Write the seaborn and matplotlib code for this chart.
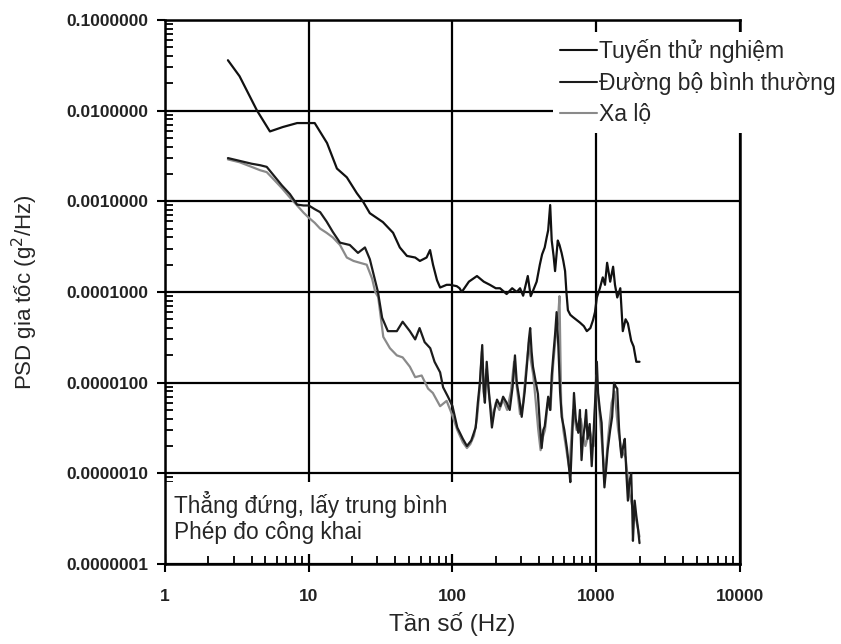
import numpy as np
import pandas as pd
import matplotlib
matplotlib.use("Agg")
import matplotlib.pyplot as plt
import matplotlib.ticker as mticker
import seaborn as sns

# ---------------- data ----------------
series_names = ["Tuyến thử nghiệm", "Đường bộ bình thường", "Xa lộ"]

f_test = [2.74, 3.3, 4.37, 5.37, 6.6, 8.3, 11.0, 13.4, 15.7, 18.4, 21.6, 23.8, 26.6,
          32.8, 38.6, 43, 48.2, 55, 59.3, 66, 69.8, 73.2, 78, 82, 91, 96, 107, 112,
          116, 130, 148, 165, 182, 200, 214, 238, 260, 280, 295, 310, 334, 350, 363,
          385, 405, 420, 438, 452, 463, 478, 490, 505, 517, 540, 555, 574, 590, 607,
          620, 635, 660, 687, 720, 770, 820, 860, 910, 950, 980, 1010, 1060, 1110,
          1150, 1190, 1250, 1310, 1350, 1400, 1470, 1530, 1600, 1660, 1750, 1820,
          1900, 2000]
psd_test = [0.036, 0.024, 0.010, 0.0059, 0.0066, 0.0073, 0.0073, 0.0044, 0.0023,
            0.00184, 0.00123, 0.001, 0.00074, 0.00059, 0.00045, 0.00031, 0.00025,
            0.00024, 0.00022, 0.00024, 0.00029, 0.0002, 0.000135, 0.000112, 0.00012,
            0.00012, 0.000116, 0.00011, 0.0001, 0.00013, 0.00015, 0.00013, 0.00012,
            0.00011, 0.00011, 0.000095, 0.00011, 0.0001, 0.00011, 0.000091, 0.00015,
            0.00009, 0.000103, 0.00013, 0.0002, 0.00026, 0.00031, 0.0004, 0.00048,
            0.00091, 0.00037, 0.00025, 0.00017, 0.00037, 0.00033, 0.00027, 0.00022,
            0.00017, 0.0001, 0.000063, 0.000056, 0.000053, 0.00005, 0.000046,
            0.000042, 0.000037, 0.00004, 0.000049, 0.00006, 0.000087, 0.00011,
            0.000145, 0.00012, 0.00021, 0.00013, 0.00019, 0.00012, 0.000087,
            0.00011, 0.000037, 0.00005, 0.000045, 0.000029, 0.000025, 0.000017,
            0.000017]

f_road = [2.74, 3.3, 4.0, 4.6, 5.1, 5.6, 6.5, 7.4, 8.3, 9.2, 10, 11, 12, 13.3, 14.7,
          16.5, 19.3, 22, 24.6, 26.6, 28.9, 30.3, 32.4, 35.5, 41, 45, 50.5, 55, 59,
          64, 70, 75, 82, 86, 93, 100, 108, 118, 126, 135, 145, 150, 155, 161, 165,
          168, 173, 178, 188, 196, 204, 215, 225, 238, 250, 262, 272, 280, 290, 303,
          318, 330, 340, 347, 355, 363, 380, 393, 405, 417, 428, 438, 452, 463, 478,
          490, 505, 517, 530, 545, 560, 575, 600, 625, 645, 660, 680, 700, 720, 750,
          770, 790, 810, 830, 850, 870, 900, 930, 960, 990, 1010, 1030, 1060, 1090,
          1120, 1140, 1170, 1200, 1250, 1290, 1330, 1370, 1400, 1440, 1470, 1500,
          1540, 1580, 1620, 1660, 1700, 1750, 1780, 1800, 1850, 1900, 1950, 2000]
psd_road = [0.0030, 0.0028, 0.0026, 0.0025, 0.0024, 0.0020, 0.0015, 0.0012, 0.00092,
            0.0009, 0.0009, 0.00082, 0.00076, 0.0006, 0.00046, 0.00035, 0.00033,
            0.00027, 0.00031, 0.00023, 0.000136, 0.0001, 0.000052, 0.000037,
            0.000037, 0.000047, 0.000037, 0.00003, 0.00004, 0.000028, 0.000024,
            0.000017, 0.000013, 0.0000089, 0.000007, 0.0000055, 0.0000032, 0.0000024,
            0.000002, 0.0000023, 0.0000032, 0.000006, 0.00001, 0.000026, 0.000008,
            0.000006, 0.000017, 0.000009, 0.0000032, 0.000005, 0.0000065, 0.0000055,
            0.000007, 0.000006, 0.000005, 0.000009, 0.00002, 0.00001, 0.000007,
            0.0000042, 0.000008, 0.000016, 0.00003, 0.00004, 0.000022, 0.000015,
            0.00001, 0.0000075, 0.0000035, 0.0000019, 0.000003, 0.0000033, 0.000005,
            0.000007, 0.000005, 0.000012, 0.000022, 0.000034, 0.00006, 0.000025,
            0.000008, 0.0000042, 0.000003, 0.0000019, 0.0000012, 0.0000008,
            0.0000025, 0.0000077, 0.000004, 0.0000028, 0.000005, 0.0000014,
            0.0000025, 0.0000032, 0.000005, 0.0000024, 0.0000035, 0.0000012,
            0.000003, 0.000008, 0.000017, 0.0000077, 0.000005, 0.0000036, 0.0000012,
            0.0000007, 0.0000011, 0.0000018, 0.000003, 0.0000042, 0.00001, 0.000009,
            0.0000086, 0.0000032, 0.000002, 0.0000015, 0.000002, 0.0000024, 0.000001,
            0.0000005, 0.0000008, 0.000001, 0.0000004, 0.00000018, 0.0000005,
            0.00000034, 0.00000025, 0.00000017]

f_hwy = [2.74, 3.3, 4.0, 4.6, 5.1, 5.6, 6.5, 7.4, 8.3, 9.2, 10, 11, 12, 13.3, 14.7,
         16.5, 18.4, 20.5, 22.7, 25.3, 27.6, 29, 30.4, 33, 36.7, 41, 45, 50.5, 55, 61,
         67.6, 73, 82, 91, 99, 108, 118, 126, 133, 141, 148, 155, 160, 166, 172, 180,
         190, 200, 212, 225, 240, 255, 268, 280, 295, 310, 325, 340, 350, 365, 380,
         395, 410, 425, 440, 460, 480, 500, 520, 540, 555, 570, 590, 620, 650, 690,
         730, 780, 840, 900, 960, 1000, 1050, 1100, 1150, 1210, 1280, 1340, 1420,
         1500, 1600, 1700, 1800, 1900, 2000]
psd_hwy = [0.0029, 0.0027, 0.0024, 0.0022, 0.0021, 0.0018, 0.0014, 0.0011, 0.0009,
           0.00075, 0.00066, 0.00058, 0.0005, 0.00045, 0.0004, 0.00033, 0.00024,
           0.00022, 0.00021, 0.0002, 0.00014, 0.0001, 0.000088, 0.000032, 0.000024,
           0.00002, 0.000019, 0.000015, 0.0000115, 0.000012, 0.0000086, 0.0000077,
           0.0000055, 0.0000063, 0.0000045, 0.000003, 0.0000022, 0.0000019,
           0.0000021, 0.0000026, 0.000004, 0.000009, 0.000022, 0.000007, 0.000014,
           0.000007, 0.000004, 0.000006, 0.000005, 0.0000065, 0.000005, 0.000008,
           0.000017, 0.000009, 0.0000045, 0.000006, 0.000014, 0.000028, 0.000018,
           0.000012, 0.000006, 0.000003, 0.0000018, 0.0000025, 0.000003, 0.000006,
           0.000005, 0.000015, 0.00003, 0.000045, 0.00009, 0.000006, 0.000003,
           0.0000018, 0.0000011, 0.000005, 0.000003, 0.000004, 0.000002, 0.000003,
           0.000002, 0.000012, 0.000005, 0.000002, 0.0000009, 0.0000025, 0.000006,
           0.000008, 0.000003, 0.0000018, 0.0000015, 0.0000006, 0.0000004,
           0.0000003, 0.0000002]

x_ticks = [1, 10, 100, 1000, 10000]
y_ticks = [1e-7, 1e-6, 1e-5, 1e-4, 1e-3, 1e-2, 1e-1]
x_label = "Tần số (Hz)"
y_label = "PSD gia tốc (g$^2$/Hz)"
note_text = "Thẳng đứng, lấy trung bình\nPhép đo công khai"

# ---------------- figure ----------------
sns.set_theme(style="white")
plt.rcParams["font.family"] = ["Liberation Sans", "DejaVu Sans"]

fig = plt.figure(figsize=(8.41, 6.44), dpi=100)
ax = fig.add_axes([165 / 841, 1 - 564 / 644, 575 / 841, 544 / 644])

df = pd.concat([
    pd.DataFrame({"f": f_hwy, "psd": psd_hwy, "s": series_names[2]}),
    pd.DataFrame({"f": f_road, "psd": psd_road, "s": series_names[1]}),
    pd.DataFrame({"f": f_test, "psd": psd_test, "s": series_names[0]}),
])
palette = {series_names[0]: "#111111", series_names[1]: "#1c1c1c", series_names[2]: "#8a8a8a"}
sns.lineplot(data=df, x="f", y="psd", hue="s", palette=palette, estimator=None,
             sort=False, linewidth=1.6, ax=ax, zorder=3)

ax.set_xscale("log")
ax.set_yscale("log")
ax.set_xlim(1, 10000)
ax.set_ylim(1e-7, 0.1)

ax.xaxis.set_major_locator(mticker.FixedLocator(x_ticks))
ax.xaxis.set_major_formatter(mticker.FixedFormatter([str(v) for v in x_ticks]))
ax.xaxis.set_minor_locator(mticker.LogLocator(base=10, subs=np.arange(2, 10), numticks=20))
ax.xaxis.set_minor_formatter(mticker.NullFormatter())
ax.yaxis.set_major_locator(mticker.FixedLocator(y_ticks))
ax.yaxis.set_major_formatter(mticker.FuncFormatter(lambda v, p: f"{v:.7f}"))
ax.yaxis.set_minor_locator(mticker.LogLocator(base=10, subs=np.arange(2, 10), numticks=20))
ax.yaxis.set_minor_formatter(mticker.NullFormatter())

ax.grid(True, which="major", color="black", linewidth=1.6, zorder=1)
ax.set_axisbelow(True)
for sp in ax.spines.values():
    sp.set_color("black")
    sp.set_linewidth(1.8)

ax.tick_params(which="major", direction="out", length=6, width=1.5, color="black",
               labelsize=12.5, pad=6, bottom=True, left=True, top=False, right=False)
ax.tick_params(which="minor", direction="in", length=6, width=1.3, color="black",
               bottom=True, left=True, top=False, right=False)
for lab in ax.get_xticklabels() + ax.get_yticklabels():
    lab.set_fontweight("bold")
    lab.set_color("#222222")
ax.tick_params(axis="x", pad=12)

ax.set_xlabel(x_label, fontsize=17.5, labelpad=6)
ax.set_ylabel(y_label, fontsize=16, labelpad=19)

# legend in desired order
handles, labels = ax.get_legend_handles_labels()
order = [labels.index(n) for n in series_names]
leg = ax.legend([handles[i] for i in order], [labels[i] for i in order],
                loc="upper left", bbox_to_anchor=(553 / 841, 1 - 32 / 644),
                bbox_transform=fig.transFigure, frameon=True, fancybox=False,
                framealpha=1, facecolor="white", edgecolor="none",
                fontsize=16.5, handlelength=1.6, handletextpad=0.12,
                borderpad=0.3, labelspacing=0.38, borderaxespad=0)
for h in leg.get_lines():
    h.set_linewidth(1.5)

ax.text(0.015, 0.085, note_text, transform=ax.transAxes, fontsize=16.3,
        ha="left", va="center", linespacing=1.15, zorder=2.4,
        bbox=dict(boxstyle="square,pad=0.42", facecolor="white", edgecolor="none"))

fig.savefig("out.png", dpi=100)
